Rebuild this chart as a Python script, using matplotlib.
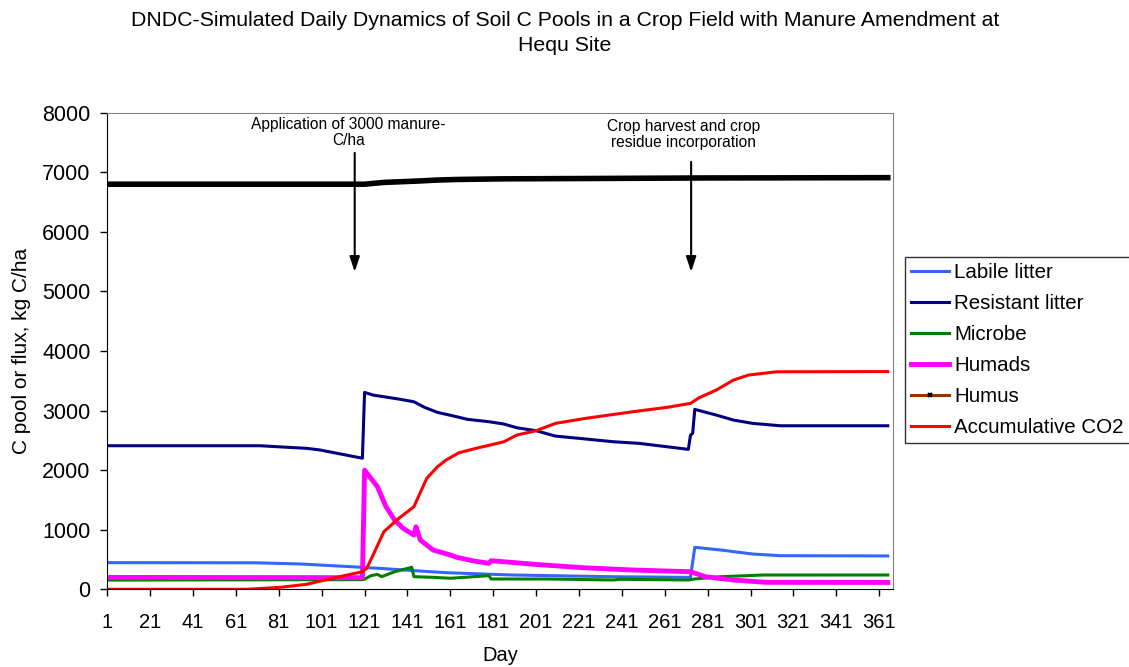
import numpy as np
import matplotlib.pyplot as plt
from matplotlib.lines import Line2D

plt.rcParams['font.family'] = ['Liberation Sans', 'DejaVu Sans']

# values (day, kg C/ha)
labile_day = [1, 70, 91, 120, 121, 128, 144, 159, 180, 190, 237, 273, 275, 287, 302, 315, 365]
labile = [447, 445, 425, 369, 365, 352, 313, 279, 252, 240, 211, 200, 705, 660, 592, 564, 560]

resist_day = [1, 72, 94, 100, 120, 121, 125, 137, 144, 149, 155, 162, 169, 179, 186, 192, 201,
              210, 221, 237, 249, 262, 272, 273, 274, 275, 285, 293, 302, 315, 365]
resist = [2410, 2410, 2366, 2340, 2200, 3305, 3260, 3193, 3148, 3054, 2970, 2913, 2853, 2813, 2774,
          2712, 2662, 2572, 2534, 2477, 2450, 2393, 2349, 2589, 2617, 3020, 2925, 2841, 2785, 2745, 2745]

microbe_day = [1, 120, 121, 124, 127, 129, 135, 143, 144, 153, 161, 179, 180, 206, 237, 240,
               272, 275, 287, 307, 365]
microbe = [155, 162, 170, 229, 250, 212, 295, 369, 212, 201, 185, 229, 173, 173, 156, 168,
           156, 173, 211, 240, 240]

humads_day = [1, 120, 121, 127, 131, 135, 139, 144, 145, 147, 153, 161, 164, 172, 179, 180,
              200, 223, 246, 273, 280, 293, 308, 365]
humads = [200, 195, 2000, 1722, 1386, 1163, 1023, 911, 1050, 827, 659, 576, 537, 475, 436, 480,
          420, 362, 324, 295, 211, 156, 117, 115]

humus_day = [1, 121, 130, 147, 155, 165, 185, 220, 280, 365]
humus = [6800, 6800, 6830, 6855, 6870, 6880, 6890, 6895, 6905, 6910]

co2_day = [1, 66, 82, 94, 106, 120, 122, 125, 130, 137, 144, 150, 155, 159, 165, 173, 186, 192,
           201, 210, 224, 246, 262, 273, 277, 285, 293, 300, 313, 365]
co2 = [0, 0, 34, 84, 185, 295, 352, 576, 967, 1191, 1386, 1862, 2057, 2170, 2292, 2366, 2477,
       2589, 2662, 2785, 2869, 2980, 3054, 3121, 3215, 3344, 3512, 3596, 3651, 3655]

fig = plt.figure(figsize=(11.29, 6.67), dpi=100)
ax = fig.add_axes([0.0950, 0.1165, 0.6957, 0.7145])

ax.plot(labile_day, labile, color='#3366FF', lw=2.2)
ax.plot(resist_day, resist, color='#000080', lw=2.2)
ax.plot(microbe_day, microbe, color='#008000', lw=2.2)
ax.plot(humads_day, humads, color='#FF00FF', lw=3.5)
ax.plot(humus_day, humus, color='black', lw=4)
ax.plot(co2_day, co2, color='#FF0000', lw=2.2)

ax.set_xlim(1, 367.3)
ax.set_ylim(0, 8000)
ax.set_xticks(range(1, 362, 20))
ax.set_yticks(range(0, 8001, 1000))
ax.tick_params(direction='out', length=5, width=1)
ax.tick_params(axis='x', pad=12, labelsize=14.5)
ax.tick_params(axis='y', pad=7, labelsize=15.5)
for s in ['top', 'right']:
    ax.spines[s].set_color('#808080')
ax.set_xlabel('Day', fontsize=14.5, labelpad=10)
ax.set_ylabel('C pool or flux, kg C/ha', fontsize=15, labelpad=8)

# annotations
arrow = dict(arrowstyle='-|>,head_length=0.9,head_width=0.3', color='black', lw=1.5,
             shrinkA=0, shrinkB=0, mutation_scale=10)
ax.annotate('', xy=(116.4, 5329), xytext=(116.4, 7326), arrowprops=arrow)
ax.annotate('', xy=(273.3, 5329), xytext=(273.3, 7175), arrowprops=arrow)
ax.text(113.6, 7665, 'Application of 3000 manure-\nC/ha', ha='center', va='center',
        fontsize=11.2, linespacing=1.1)
ax.text(269.6, 7640, 'Crop harvest and crop\nresidue incorporation', ha='center', va='center',
        fontsize=11.2, linespacing=1.1)

fig.text(0.5004, 0.9498, 'DNDC-Simulated Daily Dynamics of Soil C Pools in a Crop Field with Manure Amendment at\nHequ Site',
         ha='center', va='center', fontsize=15.3, linespacing=1.4)

handles = [Line2D([], [], color='#3366FF', lw=2.2),
           Line2D([], [], color='#000080', lw=2.2),
           Line2D([], [], color='#008000', lw=2.2),
           Line2D([], [], color='#FF00FF', lw=3.5),
           Line2D([], [], color='#993300', lw=2.2, marker='x', ms=3, mec='black', mew=1.5),
           Line2D([], [], color='#FF0000', lw=2.2)]
labels = ['Labile litter', 'Resistant litter', 'Microbe', 'Humads', 'Humus', 'Accumulative CO2']
leg = ax.legend(handles, labels, loc='upper left', bbox_to_anchor=(905 / 1129, 1 - 257 / 667),
                bbox_transform=fig.transFigure, fontsize=14.8, frameon=True, fancybox=False,
                edgecolor='black', borderaxespad=0, borderpad=0.3, labelspacing=0.58,
                handlelength=1.85, handletextpad=0.25)
leg.get_frame().set_linewidth(1)

fig.savefig('out.png', dpi=100)
